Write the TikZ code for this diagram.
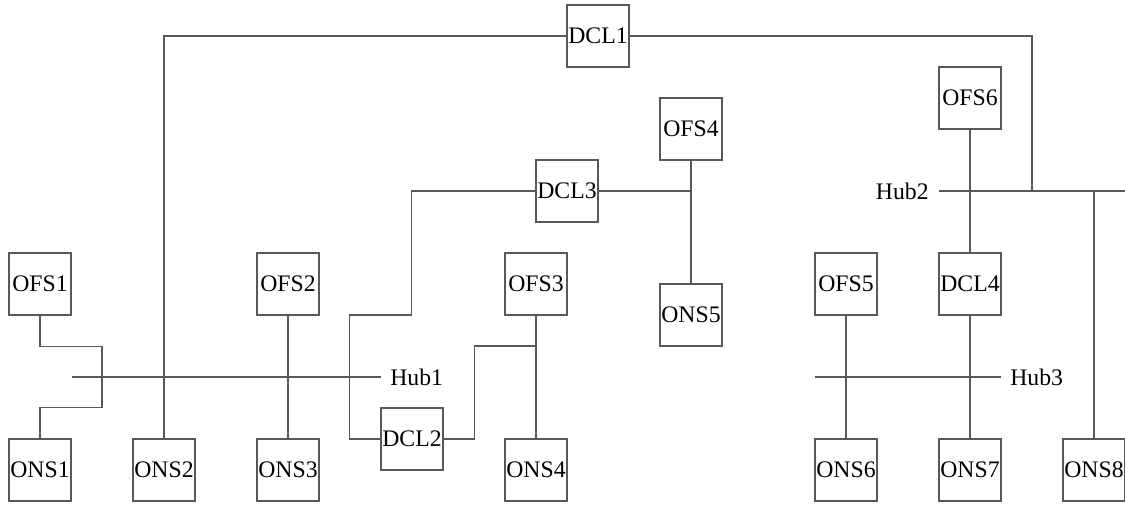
\documentclass[tikz,border=0pt]{standalone}
\usepackage{fontspec}
\setmainfont{Liberation Serif}
\begin{document}
\begin{tikzpicture}[x=0.02cm,y=-0.02cm,
  box/.style={draw=black!65, line width=0.6pt, minimum width=1.24cm, minimum height=1.24cm, inner sep=0pt, font=\fontsize{13.5}{15}\selectfont},
  hublabel/.style={inner sep=0pt, font=\fontsize{13.5}{15}\selectfont},
  wire/.style={draw=black!65, line width=0.6pt}]
\useasboundingbox (0,0) rectangle (1125,506);
% nodes
\node[box] (ofs1) at (40,284) {OFS1};
\node[box] (ons1) at (40,470) {ONS1};
\node[box] (ons2) at (164,470) {ONS2};
\node[box] (ofs2) at (288,284) {OFS2};
\node[box] (ons3) at (288,470) {ONS3};
\node[box] (dcl2) at (412,439) {DCL2};
\node[box] (ofs3) at (536,284) {OFS3};
\node[box] (ons4) at (536,470) {ONS4};
\node[box] (dcl3) at (567,191) {DCL3};
\node[box] (ofs4) at (691,129) {OFS4};
\node[box] (ons5) at (691,315) {ONS5};
\node[box] (dcl1) at (598,36) {DCL1};
\node[box] (ofs6) at (970,98) {OFS6};
\node[box] (dcl4) at (970,284) {DCL4};
\node[box] (ofs5) at (846,284) {OFS5};
\node[box] (ons6) at (846,470) {ONS6};
\node[box] (ons7) at (970,470) {ONS7};
\node[box] (ons8) at (1094,470) {ONS8};
% hubs
\coordinate (h1a) at (72,377);
\coordinate (h1b) at (381,377);
\node[hublabel, anchor=west] (hub1) at (390,377) {Hub1};
\coordinate (h2b) at (1125,191);
\coordinate (h2a) at (939,191);
\node[hublabel, anchor=east] (hub2) at (929,191) {Hub2};
\coordinate (h3a) at (815,377);
\coordinate (h3b) at (1001,377);
\node[hublabel, anchor=west] (hub3) at (1010,377) {Hub3};
\coordinate (h2j) at (1032,191);
\draw[wire] (h1a) -- (h1b);
\draw[wire] (h2a) -- (h2b);
\draw[wire] (h3a) -- (h3b);
% connectors
\draw[wire] (ofs1.south) -- ++(0,31) -- ++(62,0) -- ++(0,61) -- ++(-62,0) -- (ons1.north);
\draw[wire] (ons2.north) |- (dcl1.west);
\draw[wire] (dcl1.east) -| (h2j);
\draw[wire] (ofs2.south) -- (ons3.north);
\draw[wire] (dcl2.west) -- ++(-31,0) -- ++(0,-124) -- ++(62,0) |- (dcl3.west);
\draw[wire] (dcl2.east) -- ++(31,0) -- ++(0,-93) -| (ofs3.south);
\draw[wire] (ofs3.south) -- (ons4.north);
\draw[wire] (dcl3.east) -| (ofs4.south);
\draw[wire] (ofs4.south) -- (ons5.north);
\draw[wire] (ofs6.south) -- (dcl4.north);
\draw[wire] (dcl4.south) -- (ons7.north);
\draw[wire] (ofs5.south) -- (ons6.north);
\draw[wire] (ons8.north) -- (ons8.north |- h2a);
\end{tikzpicture}
\end{document}
